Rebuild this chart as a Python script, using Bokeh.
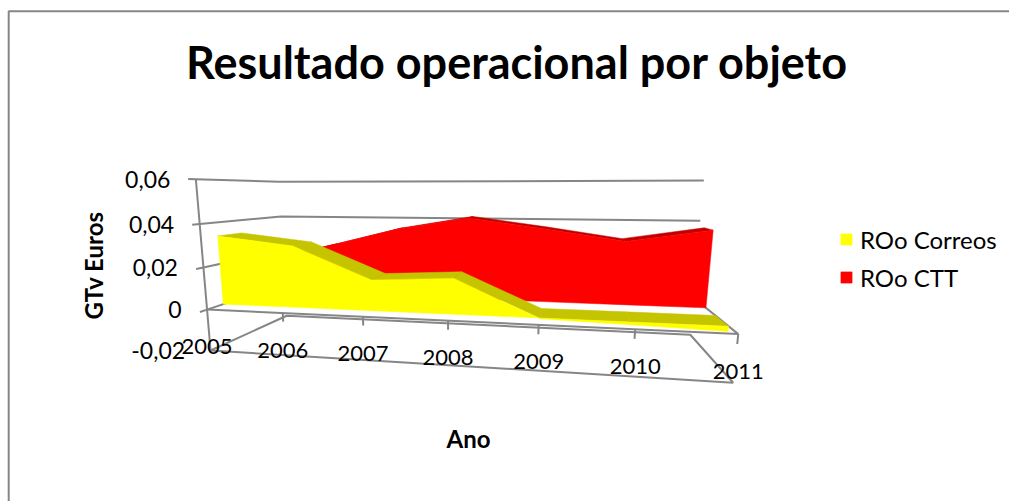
import numpy as np
from bokeh.plotting import figure
from bokeh.models import Range1d, Legend, LegendItem
from bokeh.core.properties import value
from bokeh.embed import file_html
from bokeh.resources import INLINE

years = ["2005", "2006", "2007", "2008", "2009", "2010", "2011"]
ro_correos = [0.0335, 0.0295, 0.0145, 0.0165, -0.0003, -0.0012, -0.0022]
ro_ctt = [0.0170, 0.0255, 0.0350, 0.0415, 0.0365, 0.0310, 0.0370]
val_ticks = [0.06, 0.04, 0.02, 0, -0.02]
val_labels = ["0,06", "0,04", "0,02", "0", "-0,02"]
title = "Resultado operacional por objeto"
x_title = "Ano"
y_title = "GTv Euros"

W, H = 1009, 501
FONT = "Lato"
GRID = "#868686"

# Perspective calibration of the 3D box: (category, value, depth) -> page pixel
calib = [
    (0, .06, 0, 193, 179), (0, -.02, 0, 210, 350), (6, -.02, 0, 733, 383),
    (0, .06, 1, 280, 181), (6, .06, 1, 703, 180), (0, -.02, 1, 285, 316),
    (6, -.02, 1, 690, 333), (0, 0, 0, 208, 308), (6, 0, 0, 738, 333),
    (3, 0, 0, 447, 321), (1, 0, 0, 283, 313), (5, 0, 0, 634, 329),
    (0, .04, 1, 280, 216), (6, .04, 1, 700, 221), (0, .04, 0, 200, 223),
]
A, b = [], []
for X, Y, Z, u, v in calib:
    Y = Y * 100
    A.append([X, Y, Z, 1, 0, 0, 0, 0, -u * X, -u * Y, -u * Z]); b.append(u)
    A.append([0, 0, 0, 0, X, Y, Z, 1, -v * X, -v * Y, -v * Z]); b.append(v)
sol = np.linalg.lstsq(np.array(A, float), np.array(b, float), rcond=None)[0]
P = np.append(sol, 1.0).reshape(3, 4)


def proj(X, Y, Z):
    h = P @ np.array([X, Y * 100, Z, 1.0])
    return float(h[0] / h[2]), float(h[1] / h[2])


def path(pts):
    q = [proj(*t) for t in pts]
    return [a for a, _ in q], [c for _, c in q]


p = figure(width=W, height=H, output_backend="svg", toolbar_location=None,
           x_range=Range1d(0, W), y_range=Range1d(H, 0),
           min_border=0, outline_line_color=None, background_fill_color="white",
           border_fill_color="white")
p.axis.visible = False
p.grid.visible = False

# chart frame
p.line([1100, 8.2, 8.2], [10.8, 10.8, 600], line_color=GRID, line_width=2)

n = len(years) - 1
# walls and floor lines
for v in val_ticks:
    xs, ys = path([(0, v, -0.07), (0, v, 0), (0, v, 1), (n, v, 1)])
    if v == -0.02:
        xs, ys = path([(0, v, 0), (0, v, 1), (n, v, 1), (n, v, 0), (0, v, 0)])
    p.line(xs, ys, line_color=GRID, line_width=2)
xs, ys = path([(0, .06, 0), (0, -.02, 0)])
p.line(xs, ys, line_color=GRID, line_width=2)
xs, ys = path([(0, 0, 0), (n, 0, 0), (n, 0, 1)])
p.line(xs, ys, line_color=GRID, line_width=2)
for i in range(1, n + 1):
    xs, ys = path([(i, 0, 0), (i, -0.004, 0)])
    p.line(xs, ys, line_color=GRID, line_width=2)


def area(vals, z0, z1, face, top):
    xq, yq = [], []
    for i in range(n):
        a, c = max(vals[i], 0), max(vals[i + 1], 0)
        xs, ys = path([(i, a, z0), (i + 1, c, z0), (i + 1, c, z1), (i, a, z1)])
        xq.append(xs); yq.append(ys)
    p.patches(xq, yq, fill_color=top, line_color=top, line_width=0.5)
    pts = [(i, vals[i], z0) for i in range(n + 1)] + [(i, 0, z0) for i in range(n, -1, -1)]
    xs, ys = path(pts)
    return p.patch(xs, ys, fill_color=face, line_color=face, line_width=0.5)


r_ctt = area(ro_ctt, 0.66, 0.88, "#FF0000", "#C00000")
r_cor = area(ro_correos, 0.17, 0.44, "#FFFF00", "#C4C400")

# axis labels
lx, ly = zip(*[proj(0, v, 0) for v in val_ticks])
p.text([a - 25.5 for a in lx], list(ly), text=val_labels, text_align="right", text_baseline="middle",
       text_font=value(FONT), text_font_size="23px", text_color="black")
yx, yy = zip(*[proj(i, 0, 0) for i in range(n + 1)])
p.text(list(yx), [c + 37 for c in yy], text=years, text_align="center", text_baseline="middle",
       text_font=value(FONT), text_font_size="22px", text_color="black")

# titles
p.text([516.5], [61], text=[title], text_align="center", text_baseline="middle",
       text_font=value(FONT), text_font_style="bold", text_font_size="45px", text_color="black")
p.text([468], [438], text=[x_title], text_align="center", text_baseline="middle",
       text_font=value(FONT), text_font_style="bold", text_font_size="24px", text_color="black")
p.text([93], [265], text=[y_title], text_align="center", text_baseline="middle", angle=np.pi / 2,
       text_font=value(FONT), text_font_style="bold", text_font_size="24px", text_color="black")

legend = Legend(items=[LegendItem(label="ROo Correos", renderers=[r_cor]),
                       LegendItem(label="ROo CTT", renderers=[r_ctt])],
                location=(839, H - 292), orientation="vertical", background_fill_alpha=0,
                border_line_alpha=0, padding=0, margin=0, spacing=8, glyph_width=14, glyph_height=14,
                label_standoff=7, label_text_font=FONT, label_text_font_size="24px", label_text_color="black",
                label_height=30)
p.add_layout(legend, "center")

open("out.html", "w").write(file_html(p, INLINE))
